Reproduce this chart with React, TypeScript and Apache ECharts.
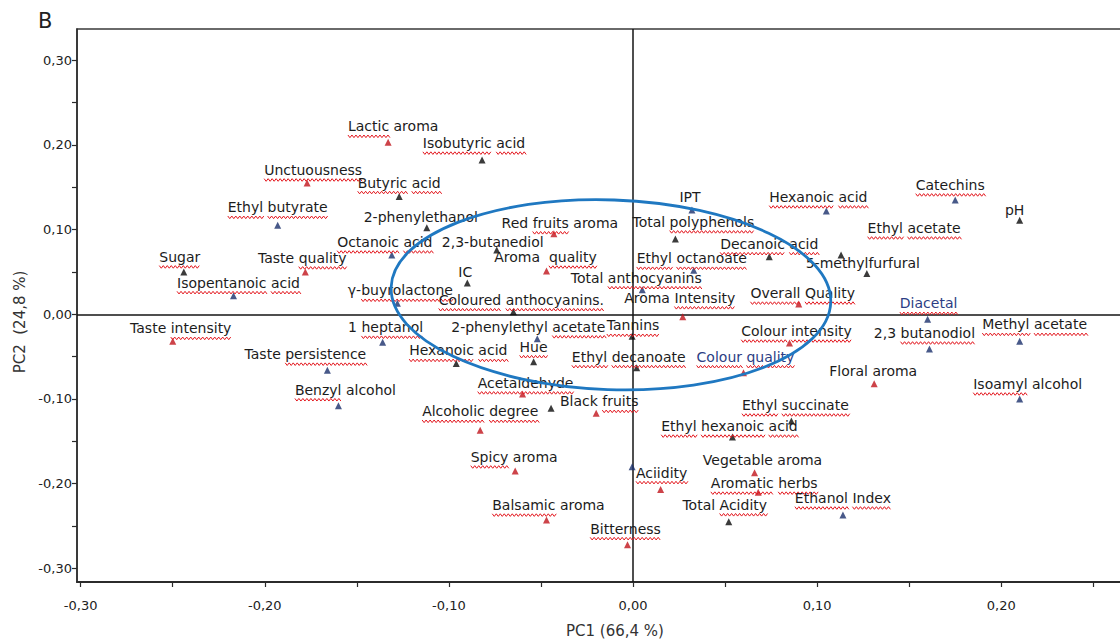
import React, { useEffect, useRef } from "react";
import * as echarts from "echarts";

// PCA loadings: PC1 (66,4 %) vs PC2 (24,8 %)
const names: string[] = [
  "Lactic aroma", "Isobutyric acid", "Unctuousness", "Butyric acid", "Ethyl butyrate",
  "2-phenylethanol", "Red fruits aroma", "Octanoic acid", "2,3-butanediol", "Sugar",
  "Taste quality", "Aroma  quality", "Isopentanoic acid", "IC", "γ-buyrolactone",
  "Coloured anthocyanins.", "Total anthocyanins", "Aroma Intensity", "IPT", "Total polyphenols",
  "Ethyl octanoate", "Hexanoic acid", "Catechins", "pH", "Ethyl acetate",
  "Decanoic acid", "5-methylfurfural", "Overall Quality", "Diacetal", "Tannins",
  "2-phenylethyl acetate", "Colour intensity", "2,3 butanodiol", "Methyl acetate", "Taste intensity",
  "1 heptanol", "Hexanoic acid", "Hue", "Ethyl decanoate", "Colour quality",
  "Taste persistence", "Floral aroma", "Isoamyl alcohol", "Acetaldehyde", "",
  "Benzyl alcohol", "Black fruits", "Alcoholic degree", "Ethyl succinate", "Ethyl hexanoic acid",
  "Spicy aroma", "", "Aciidity", "Vegetable aroma", "Aromatic herbs",
  "Ethanol Index", "Total Acidity", "Balsamic aroma", "Bitterness",
];

const pc1: number[] = [
  -0.133, -0.082, -0.177, -0.127, -0.193,
  -0.112, -0.043, -0.131, -0.074, -0.244,
  -0.178, -0.047, -0.217, -0.090, -0.128,
  -0.065, 0.005, 0.027, 0.032, 0.023,
  0.033, 0.105, 0.175, 0.210, 0.113,
  0.074, 0.127, 0.090, 0.160, -0.0005,
  -0.052, 0.085, 0.161, 0.210, -0.250,
  -0.136, -0.096, -0.054, 0.002, 0.060,
  -0.166, 0.131, 0.210, -0.060, -0.0445,
  -0.160, -0.020, -0.083, 0.086, 0.054,
  -0.064, -0.0005, 0.015, 0.066, 0.068,
  0.114, 0.052, -0.047, -0.003,
];

const pc2: number[] = [
  0.203, 0.182, 0.155, 0.139, 0.105,
  0.102, 0.095, 0.070, 0.076, 0.050,
  0.050, 0.051, 0.022, 0.037, 0.013,
  0.003, 0.029, -0.003, 0.123, 0.089,
  0.052, 0.122, 0.135, 0.111, 0.070,
  0.068, 0.048, 0.012, -0.006, -0.026,
  -0.029, -0.034, -0.041, -0.032, -0.032,
  -0.033, -0.058, -0.056, -0.063, -0.069,
  -0.066, -0.082, -0.100, -0.094, -0.111,
  -0.108, -0.117, -0.137, -0.126, -0.145,
  -0.185, -0.180, -0.207, -0.187, -0.210,
  -0.237, -0.245, -0.243, -0.272,
];

// 0 = sensory (red), 1 = navy, 2 = black
const kind: number[] = [
  0, 2, 0, 2, 1,
  2, 0, 1, 2, 2,
  0, 0, 1, 2, 1,
  2, 1, 0, 1, 2,
  1, 1, 1, 2, 2,
  2, 2, 0, 1, 2,
  1, 0, 1, 1, 0,
  1, 2, 2, 2, 0,
  1, 0, 1, 0, 2,
  1, 0, 0, 2, 2,
  0, 1, 0, 0, 0,
  1, 2, 0, 0,
];

const xTickValues = [-0.3, -0.25, -0.2, -0.15, -0.1, -0.05, 0, 0.05, 0.1, 0.15, 0.2, 0.25];
const xLabelValues = [-0.3, -0.2, -0.1, 0, 0.1, 0.2];
const yTickValues = [-0.3, -0.25, -0.2, -0.15, -0.1, -0.05, 0, 0.05, 0.1, 0.15, 0.2, 0.25, 0.3];
const yLabelValues = [-0.3, -0.2, -0.1, 0, 0.1, 0.2, 0.3];

// highlighted cluster: centre (pc1, pc2) and radii in axis units
const clusterEllipse = [-0.012, 0.023, 0.1195, 0.112];

// ---- layout / styling (pixels) ----
const labelOffsets: number[][] = [
  [5, -16], [-8, -17], [6, -13], [0, -14], [0, -18],
  [-6, -11], [6, -11], [-7, -13], [-4, -8], [-4, -15],
  [-3, -14], [-1, -14], [5, -13], [-2, -11], [3, -13],
  [8, -12], [-6, -12], [-3, -19], [-2, -13], [18, -17],
  [-2, -12], [-8, -14], [-5, -15], [-5, -10], [73, -27],
  [0, -13], [-4, -11], [4, -11], [1, -16], [1, -11],
  [-9, -12], [7, -12], [-5, -16], [15, -17], [8, -13],
  [3, -15], [2, -13], [0, -15], [-8, -11], [2, -16],
  [-22, -16], [-1, -13], [8, -15], [3, -11], [0, 0],
  [7, -16], [3, -12], [0, -19], [4, -16], [-3, -11],
  [-1, -14], [0, 0], [1, -17], [8, -13], [6, -9],
  [0, -17], [-4, -17], [2, -15], [-2, -16],
];

const markerColors = ["#c0141b", "#1a2f6b", "#0a0a0a"];
const blueLabels = new Set(["Diacetal", "Colour quality"]);

// words flagged by the spell checker (red wavy underline)
const flaggedWords = new Set([
  "Lactic", "Isobutyric", "acid", "Unctuousness", "Butyric", "Ethyl", "butyrate", "fruits",
  "Octanoic", "Sugar", "quality", "Quality", "Isopentanoic", "buyrolactone", "Coloured",
  "anthocyanins.", "anthocyanins", "Intensity", "intensity", "polyphenols", "octanoate",
  "Hexanoic", "Catechins", "acetate", "Decanoic", "Overall", "Diacetal", "Tannins", "Colour",
  "butanodiol", "Methyl", "heptanol", "Hue", "decanoate", "persistence", "Isoamyl",
  "Acetaldehyde", "Benzyl", "Alcoholic", "degree", "succinate", "hexanoic", "Spicy",
  "Aciidity", "Aromatic", "herbs", "Ethanol", "Index", "Acidity", "Balsamic", "Bitterness",
]);

const LABEL_FONT_SIZE = 14;
const FONT_FAMILY = "DejaVu Sans";
const LABEL_FONT = `${LABEL_FONT_SIZE}px "${FONT_FAMILY}"`;

let measureCtx: CanvasRenderingContext2D | null = null;
function textWidth(s: string): number {
  if (!measureCtx) {
    measureCtx = document.createElement("canvas").getContext("2d");
  }
  if (!measureCtx) return s.length * 8;
  measureCtx.font = LABEL_FONT;
  return measureCtx.measureText(s).width;
}

function squigglePoints(x0: number, x1: number, y: number): number[][] {
  const pts: number[][] = [];
  const half = 2;
  const amp = 1.3;
  let up = true;
  for (let x = x0; x <= x1 + 0.01; x += half) {
    pts.push([x, y + (up ? -amp : amp)]);
    up = !up;
  }
  return pts;
}

const fmt = (v: number) => v.toFixed(2).replace(".", ",");

export default function App() {
  const ref = useRef<HTMLDivElement>(null);

  useEffect(() => {
    if (!ref.current) return;
    const chart = echarts.init(ref.current, undefined, { renderer: "svg" });

    const scatterData = (k: number) =>
      pc1
        .map((x, i) => (kind[i] === k ? [x, pc2[i], i] : null))
        .filter((d) => d !== null) as number[][];

    const labelData = pc1.map((x, i) => [x, pc2[i], i]);

    const renderLabel = (params: any, api: any) => {
      const i = api.value(2);
      const name = names[i];
      if (!name) return null;
      const p = api.coord([api.value(0), api.value(1)]);
      const off = labelOffsets[i];
      const cx = p[0] + off[0];
      const cy = p[1] + off[1];
      const total = textWidth(name);
      const left = cx - total / 2;
      const children: any[] = [];
      const lineY = cy + 10;
      let pos = 0;
      name.split(" ").forEach((word) => {
        if (word.length > 0) {
          const wx = left + textWidth(name.slice(0, pos));
          const ww = textWidth(word);
          let sx0 = -1;
          let sx1 = -1;
          if (flaggedWords.has(word)) {
            sx0 = wx;
            sx1 = wx + ww;
          } else if (word.includes("-")) {
            const cut = word.lastIndexOf("-") + 1;
            if (flaggedWords.has(word.slice(cut))) {
              sx0 = wx + textWidth(word.slice(0, cut));
              sx1 = wx + ww;
            }
          }
          if (sx0 >= 0) {
            children.push({
              type: "polyline",
              shape: { points: squigglePoints(sx0, sx1 + 1, lineY) },
              style: { stroke: "#e3161d", lineWidth: 1, fill: "none" },
            });
          }
        }
        pos += word.length + 1;
      });
      children.push({
        type: "text",
        style: {
          text: name,
          x: cx,
          y: cy,
          align: "center",
          verticalAlign: "middle",
          font: LABEL_FONT,
          fill: blueLabels.has(name) ? "#2c3d84" : "#1c1c1c",
        },
      });
      return { type: "group", children };
    };

    const renderEllipse = (params: any, api: any) => {
      const c = api.coord([api.value(0), api.value(1)]);
      const s = api.size([api.value(2), api.value(3)]);
      return {
        type: "ellipse",
        x: c[0],
        y: c[1],
        rotation: -0.035,
        shape: { cx: 0, cy: 0, rx: s[0], ry: s[1] },
        style: { fill: "none", stroke: "#1f78c1", lineWidth: 2.8 },
      };
    };

    const axisText = { color: "#222", fontFamily: FONT_FAMILY, fontSize: 13 };

    chart.setOption({
      animation: false,
      backgroundColor: "#ffffff",
      grid: {
        left: 77,
        top: 29,
        width: 1050,
        height: 553,
        show: true,
        borderColor: "#3a3a3a",
        borderWidth: 1.5,
      },
      xAxis: {
        type: "value",
        min: -0.302,
        max: 0.2683,
        axisLine: { show: true, onZero: false, lineStyle: { color: "#2b2b2b", width: 2 } },
        axisTick: {
          show: true,
          inside: false,
          length: 5,
          customValues: xTickValues,
          lineStyle: { color: "#2b2b2b", width: 1.2 },
        },
        axisLabel: { customValues: xLabelValues, formatter: fmt, margin: 17, ...axisText },
        splitLine: { show: false },
      },
      yAxis: {
        type: "value",
        min: -0.3161,
        max: 0.3368,
        axisLine: { show: true, onZero: false, lineStyle: { color: "#2b2b2b", width: 1.5 } },
        axisTick: {
          show: true,
          inside: false,
          length: 5,
          customValues: yTickValues,
          lineStyle: { color: "#2b2b2b", width: 1.2 },
        },
        axisLabel: { customValues: yLabelValues, formatter: fmt, margin: 5, ...axisText },
        splitLine: { show: false },
      },
      graphic: [
        {
          type: "text",
          left: 38,
          top: 10,
          style: { text: "B", font: `21px "${FONT_FAMILY}"`, fill: "#222" },
        },
        {
          type: "text",
          x: 615,
          y: 631,
          style: {
            text: "PC1 (66,4 %)",
            font: `15px "${FONT_FAMILY}"`,
            fill: "#333",
            align: "center",
            verticalAlign: "middle",
          },
        },
        {
          type: "text",
          x: 20,
          y: 322,
          rotation: Math.PI / 2,
          style: {
            text: "PC2  (24,8 %)",
            font: `15px "${FONT_FAMILY}"`,
            fill: "#333",
            align: "center",
            verticalAlign: "middle",
          },
        },
      ],
      series: [
        ...[0, 1, 2].map((k) => ({
          type: "scatter",
          name: ["Sensory", "Group B", "Group C"][k],
          data: scatterData(k),
          symbol: "triangle",
          symbolSize: 7,
          itemStyle: { color: markerColors[k] },
          z: 4,
          silent: true,
          markLine:
            k === 0
              ? {
                  silent: true,
                  symbol: ["none", "none"],
                  label: { show: false },
                  lineStyle: { color: "#151515", width: 1.5, type: "solid" },
                  data: [{ xAxis: 0 }, { yAxis: 0 }],
                  z: 1,
                }
              : undefined,
        })),
        {
          type: "custom",
          name: "labels",
          data: labelData,
          encode: { x: 0, y: 1 },
          renderItem: renderLabel,
          clip: false,
          silent: true,
          z: 5,
        },
        {
          type: "custom",
          name: "cluster",
          data: [clusterEllipse],
          encode: { x: 0, y: 1 },
          renderItem: renderEllipse,
          clip: false,
          silent: true,
          z: 10,
        },
      ],
    });

    return () => chart.dispose();
  }, []);

  // The plot frame runs past the right edge of the page, so the chart is a
  // little wider than the visible area and the overflow is clipped.
  return (
    <div
      style={{
        position: "absolute",
        left: 0,
        top: 0,
        width: 1120,
        height: 641,
        overflow: "hidden",
        background: "#fff",
      }}
    >
      <div ref={ref} style={{ width: 1135, height: 641 }} />
    </div>
  );
}
